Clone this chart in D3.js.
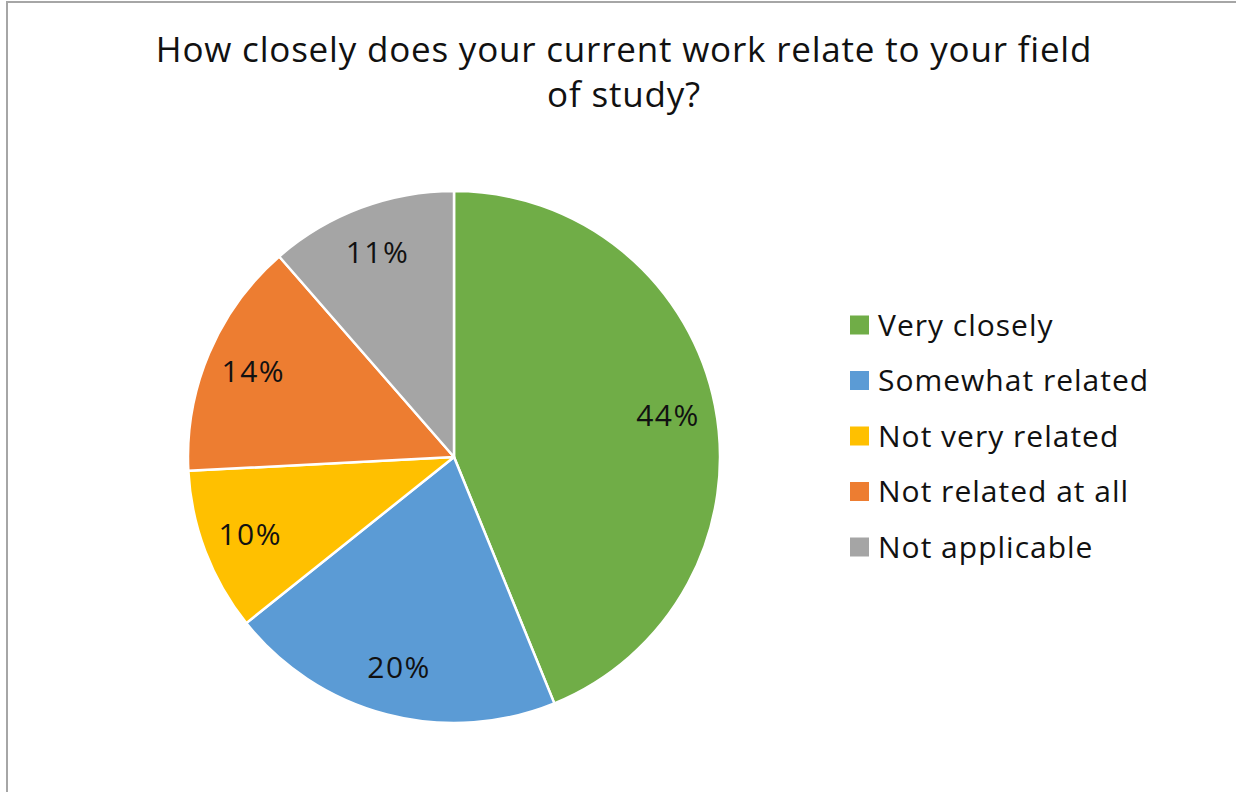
<!DOCTYPE html>
<html><head><meta charset="utf-8">
<script src="https://cdn.jsdelivr.net/npm/d3@7"></script>
<style>body{margin:0;background:#fff;}svg{display:block;}</style>
</head><body>
<svg id="chart" width="1236" height="792"></svg>
<script>
const titleLines = ["How closely does your current work relate to your field", "of study?"];
const categories = ["Very closely", "Somewhat related", "Not very related", "Not related at all", "Not applicable"];
const values = [43.8, 20.4, 9.9, 14.4, 11.4];
const colors = ["#70AD47", "#5B9BD5", "#FFC000", "#ED7D31", "#A5A5A5"];

const font = "'Open Sans', 'Noto Sans', sans-serif";
const svg = d3.select("#chart");
svg.append("rect").attr("x",7).attr("y",2).attr("width",1240).attr("height",800)
  .attr("fill","#fff").attr("stroke","#A6A6A6").attr("stroke-width",2);

svg.append("g").selectAll("text").data(titleLines).join("text")
  .attr("x",624).attr("y",(d,i)=>62+i*45).attr("text-anchor","middle")
  .attr("font-family",font).attr("font-size",35).attr("letter-spacing","0.8px").attr("fill","#111").text(d=>d);

const cx=454, cy=457, R=266;
const total = d3.sum(values);
const pie = d3.pie().sort(null).value(d=>d.v);
const data = pie(categories.map((c,i)=>({c, v:values[i], col:colors[i]})));
const arc = d3.arc().innerRadius(0).outerRadius(R);
const labelArc = d3.arc().innerRadius(218).outerRadius(218);
const g = svg.append("g").attr("transform",`translate(${cx},${cy})`);
g.selectAll("path").data(data).join("path").attr("d",arc)
  .attr("fill",d=>d.data.col).attr("stroke","#fff").attr("stroke-width",2.5).attr("stroke-linejoin","round");
const fmt = d3.format(".0%");
g.selectAll("text").data(data).join("text")
  .attr("transform",d=>`translate(${labelArc.centroid(d)})`)
  .attr("text-anchor","middle").attr("dy","0.35em")
  .attr("font-family",font).attr("font-size",30).attr("letter-spacing","1.5px").attr("fill","#111")
  .text(d=>fmt(d.data.v/total));

const ly = d3.scalePoint().domain(categories).range([325,547]);
const lg = svg.append("g");
const items = lg.selectAll("g").data(categories).join("g").attr("transform",d=>`translate(850,${ly(d)})`);
items.append("rect").attr("x",0).attr("y",-9.5).attr("width",19).attr("height",19).attr("fill",(d,i)=>colors[i]);
items.append("text").attr("x",28).attr("dy","0.35em").attr("font-family",font).attr("font-size",30).attr("letter-spacing","1px").attr("fill","#111").text(d=>d);
</script>
</body></html>
